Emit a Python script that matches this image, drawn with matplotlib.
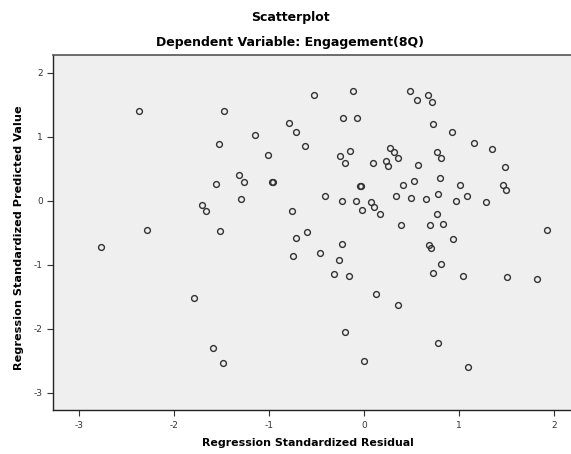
import matplotlib
matplotlib.use('Agg')
import matplotlib.pyplot as plt

plt.rcParams['font.family'] = ['DejaVu Sans']
plt.rcParams['axes.unicode_minus'] = False

# standardized residuals vs standardized predicted values
residual = [
    -2.370, -1.472, -1.523, -1.552, -1.700, -1.655, -2.278, -1.509,
    -0.528, -0.113, -0.215, -0.068, -0.786, -0.715, -1.148, -0.623,
    0.281, -1.007, -0.141, -0.247, -0.201, 0.098, 0.232, 0.260,
    -1.314, -1.261, -0.968, -0.960, -0.036, -0.030, -1.293, -0.412,
    -0.232, -0.081, 0.080, 0.112, -0.018, 0.169, -0.757, -0.602,
    -0.718, 0.489, 0.555, 0.672, 0.714, 0.724, 0.929, 1.157,
    1.347, 0.323, 0.365, 0.570, 0.771, 0.816, 1.481, 0.806,
    0.528, 0.412, 1.009, 1.460, 1.492, 0.338, 0.496, 0.658,
    0.777, 0.971, 1.088, 1.281, 0.767, 0.394, 0.693, 0.832,
    1.925, -2.760, -1.789, -1.591, -1.480, -0.226, -0.743, -0.465,
    -0.258, -0.310, -0.152, 0.127, -0.201, 0.003, 0.940, 0.682,
    0.707, 0.813, 0.724, 1.049, 1.510, 1.819, 0.355, 0.777,
    1.098,
]
predicted = [
    1.406, 1.406, 0.881, 0.261, -0.072, -0.166, -0.458, -0.477,
    1.647, 1.719, 1.288, 1.288, 1.214, 1.069, 1.022, 0.855,
    0.828, 0.714, 0.781, 0.694, 0.594, 0.594, 0.620, 0.547,
    0.406, 0.288, 0.297, 0.290, 0.230, 0.222, 0.022, 0.073,
    0.000, 0.000, -0.025, -0.098, -0.141, -0.213, -0.166, -0.494,
    -0.578, 1.719, 1.573, 1.647, 1.547, 1.194, 1.069, 0.906,
    0.808, 0.761, 0.667, 0.553, 0.761, 0.667, 0.522, 0.355,
    0.308, 0.241, 0.241, 0.241, 0.167, 0.073, 0.047, 0.027,
    0.100, 0.000, 0.073, -0.020, -0.213, -0.388, -0.388, -0.361,
    -0.455, -0.719, -1.525, -2.297, -2.531, -0.672, -0.864, -0.813,
    -0.931, -1.150, -1.172, -1.458, -2.052, -2.505, -0.598, -0.692,
    -0.744, -0.984, -1.125, -1.172, -1.197, -1.219, -1.625, -2.223,
    -2.603,
]

x_ticks = [-3, -2, -1, 0, 1, 2]
y_ticks = [-3, -2, -1, 0, 1, 2]

fig = plt.figure(figsize=(5.71, 4.54), dpi=100)
ax = fig.add_axes([0.0933, 0.0963, 0.9100, 0.7832])
ax.set_facecolor('#efefef')

ax.plot(residual, predicted, linestyle='none', marker='o', markersize=4.2,
        markerfacecolor='none', markeredgecolor='#333333', markeredgewidth=1.0)

ax.set_xlim(-3.267, 2.20)
ax.set_ylim(-3.275, 2.28)
ax.set_xticks(x_ticks)
ax.set_yticks(y_ticks)
ax.tick_params(labelsize=6.5, labelcolor='#333333', length=4, width=0.8,
               color='#333333')

for side in ['left', 'bottom']:
    ax.spines[side].set_color('#222222')
    ax.spines[side].set_linewidth(1.0)
ax.spines['top'].set_color('#555555')
ax.spines['top'].set_linewidth(1.2)
ax.spines['right'].set_visible(False)

ax.set_xlabel('Regression Standardized Residual', fontsize=7.9,
              fontweight='bold')
ax.set_ylabel('Regression Standardized Predicted Value', fontsize=8.1,
              fontweight='bold')
ax.xaxis.set_label_coords(0.49, -0.078)
ax.yaxis.set_label_coords(-0.056, 0.485)

fig.text(0.508, 0.962, 'Scatterplot', ha='center', va='center',
         fontsize=9, fontweight='bold')
fig.text(0.508, 0.907, 'Dependent Variable: Engagement(8Q)', ha='center',
         va='center', fontsize=9, fontweight='bold')

fig.savefig('out.png', dpi=100)
